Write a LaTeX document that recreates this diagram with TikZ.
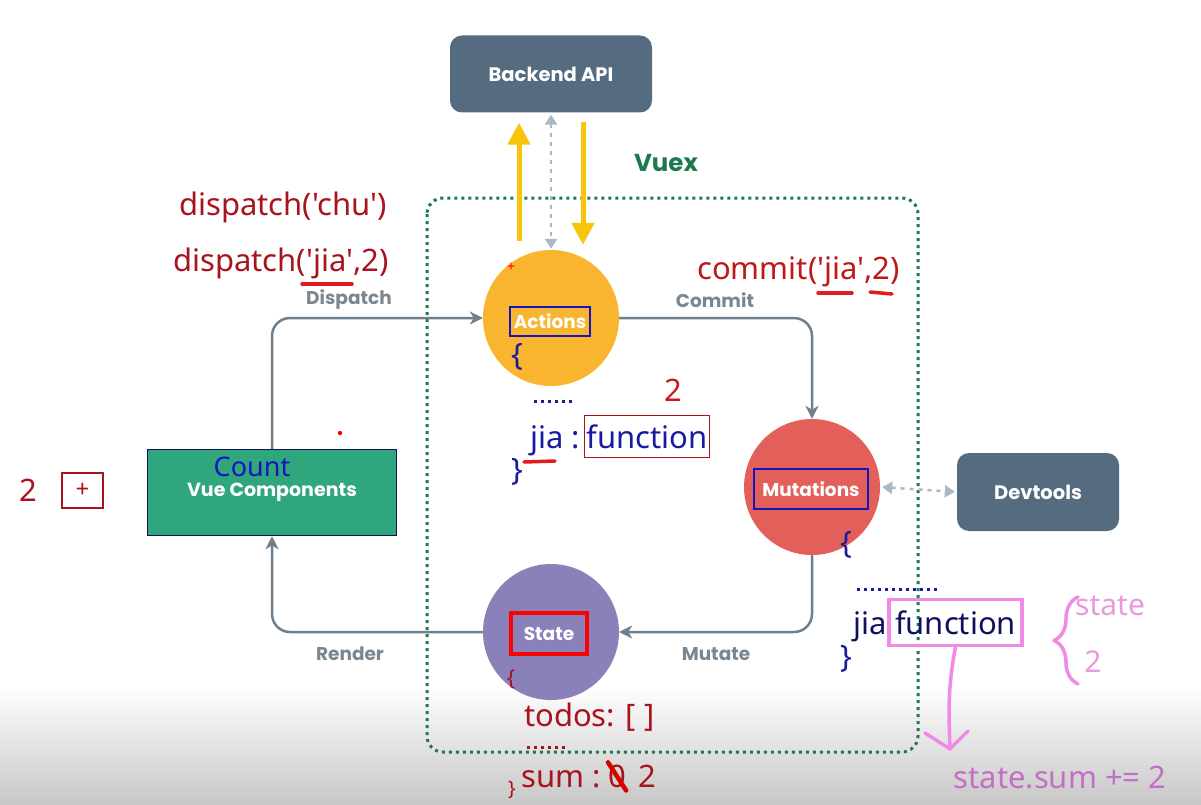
\documentclass[tikz,border=0pt]{standalone}
\usepackage{fontspec}
\setmainfont{Noto Sans}[Ligatures=TeXOff]
\newfontfamily\annfont{Noto Sans}[Ligatures=TeXOff]
\newfontfamily\lblfont{Poppins}
\usetikzlibrary{arrows.meta,decorations.pathreplacing,calc}
\definecolor{slate}{HTML}{546B80}
\definecolor{actcol}{HTML}{F9B52F}
\definecolor{mutcol}{HTML}{E3605A}
\definecolor{statecol}{HTML}{8A80BA}
\definecolor{vuecol}{HTML}{2FA67C}
\definecolor{conncol}{HTML}{6E7F8D}
\definecolor{dotcol}{HTML}{A9B8C4}
\definecolor{vuexgreen}{HTML}{1E7A4E}
\definecolor{labelgray}{HTML}{7A8791}
\definecolor{annred}{HTML}{A8141C}
\definecolor{ulred}{HTML}{E01C1C}
\definecolor{codeblue}{HTML}{1A1AA0}
\definecolor{navy}{HTML}{101060}
\definecolor{boxblue}{HTML}{1515C0}
\definecolor{gold}{HTML}{F9C50A}
\definecolor{pinkline}{HTML}{F08AE6}
\definecolor{pinktext}{HTML}{E89AE0}
\definecolor{sumpink}{HTML}{C46FC4}
\begin{document}
\begin{tikzpicture}[x=1pt,y=-1pt,
  slatebox/.style={draw=none,fill=slate,rounded corners=12pt,text=white,
    font=\lblfont\bfseries\fontsize{19.5}{22}\selectfont},
  bubble/.style={circle,minimum size=136pt,inner sep=0pt},
  inlbl/.style={text=white,font=\lblfont\bfseries\fontsize{18.5}{21}\selectfont,inner sep=2pt},
  graylbl/.style={text=labelgray,font=\lblfont\bfseries\fontsize{18.5}{21}\selectfont},
  conn/.style={draw=conncol,line width=2.5pt,rounded corners=18pt,
    -{Stealth[length=13pt,width=13pt,inset=4pt]}},
  dotarrow/.style={draw=dotcol,line width=2.5pt,dash pattern=on 4pt off 5pt,
    {Triangle[length=10pt,width=12pt]}-{Triangle[length=10pt,width=12pt]}},
  yarrow/.style={draw=gold,line width=5pt,-{Triangle[length=22pt,width=22pt]}},
  ann/.style={text=annred,font=\annfont\fontsize{31}{36}\selectfont,inner sep=0pt},
  code/.style={text=codeblue,font=\annfont\fontsize{31}{36}\selectfont,inner sep=0pt},
  ul/.style={draw=ulred,line width=3.5pt,line cap=round},
  dotsline/.style={line width=3pt,dash pattern=on 3pt off 4pt},
  pinkln/.style={draw=pinkline,line width=3.5pt,line cap=round,line join=round},
]
\useasboundingbox (0,0) rectangle (1201,805);
\fill[white] (0,0) rectangle (1201,805);
\shade[top color=white,bottom color=black!22] (0,685) rectangle (1201,805);

% Vuex boundary
\draw[vuexgreen,line width=3pt,dash pattern=on 3pt off 4pt,rounded corners=16pt]
  (427,198) rectangle (918,752);
\node[text=vuexgreen,font=\lblfont\bfseries\fontsize{24.5}{28}\selectfont] (vuex) at (666,163) {Vuex};

% main nodes
\node[slatebox,minimum width=202pt,minimum height=77pt] (api) at (551,74) {Backend API};
\node[slatebox,minimum width=162pt,minimum height=78pt] (dev) at (1038,492) {Devtools};
\node[bubble,fill=actcol] (act) at (551,318) {};
\node[bubble,fill=mutcol] (mut) at (812,487) {};
\node[bubble,fill=statecol] (st) at (551,632) {};
\node[fill=vuecol,draw=navy,line width=1.5pt,minimum width=249pt,minimum height=86pt] (vue) at (272,492.5) {};

\node[inlbl,draw=boxblue,line width=1.5pt,minimum width=80pt,minimum height=29pt] (actlbl) at (550,321.5) {Actions};
\node[inlbl,draw=boxblue,line width=1.5pt,minimum width=114pt,minimum height=40pt] (mutlbl) at (811,489) {Mutations};
\node[inlbl,draw=red,line width=4pt,minimum width=76pt,minimum height=41pt] (stlbl) at (549,633.5) {State};
\node[text=white,font=\lblfont\bfseries\fontsize{19}{22}\selectfont] (vuetxt) at (272,492) {Vue Components};
\node[text=boxblue,font=\annfont\fontsize{27}{30}\selectfont,inner sep=0pt] (count) at (252,467) {Count};

% connectors
\draw[conn] (vue.north) |- (act.west);
\draw[conn] (act.east) -| (mut.north);
\draw[conn] (mut.south) |- (st.east);
\draw[conn] (st.west) -| (vue.south);
\node[graylbl] (ldisp) at (349,300) {Dispatch};
\node[graylbl] (lcomm) at (715,300) {Commit};
\node[graylbl] (lmut) at (716,654) {Mutate};
\node[graylbl] (lrend) at (350,654) {Render};

\draw[dotarrow,shorten <=2pt,shorten >=1pt] (api.south) -- (act.north);
\draw[dotarrow,shorten <=2pt,shorten >=2pt] (mut.east) -- (dev.west);

% yellow arrows
\draw[yarrow] ($(act.north)+(-32,-9)$) -- ($(api.south)+(-32,10)$);
\draw[yarrow] ($(api.south)+(32,9)$) -- ($(act.north)+(32,-5)$);

% red annotations top left
\node[ann,anchor=west] (dchu) at (179,207) {dispatch('chu')};
\node[ann,anchor=west] (djia) at (173,263) {dispatch('jia',2)};
\draw[ul] (302,284) -- (352,284);
\node[text=red,font=\annfont\fontsize{14}{16}\selectfont,inner sep=0pt] (plus) at (511,267) {+};

% commit annotation
\node[ann,text=ulred!85!black,anchor=west] (comm) at (697,272) {commit('jia',2)};
\draw[ul] (818,293) -- (852,293);
\draw[ul] (870,292) -- (892,294);

% actions code
\node[code] (ab1) at (517,357) {\{};
\draw[codeblue,dotsline] (534,401) -- (573,401);
\node[code,draw=annred,line width=1.5pt,inner sep=2pt,minimum height=42pt,anchor=base] (afn) at (647,448) {function};
\node[code,anchor=base east] (ajia) at (580,448) {jia :};
\draw[ul] (524,462) -- (555,461);
\node[code] (ab2) at (517,472) {\}};
\node[ann,text=ulred!90!black] (two) at (673,390) {2};

% mutations code
\node[code] (mb1) at (846,545) {\{};
\draw[codeblue,dotsline] (857,589) -- (940,589);
\node[code,text=navy,draw=pinkline,line width=3.5pt,inner sep=2pt,minimum width=133pt,minimum height=46pt,anchor=base] (mfn) at (955.5,634) {function};
\node[code,text=navy,anchor=base east] (mjia) at (887,634) {jia};
\node[code] (mb2) at (846,659) {\}};

% pink annotations
\draw[pinkln,decorate,decoration={brace,amplitude=24pt,aspect=0.5}] (1078,684) -- (1078,597);
\node[text=pinktext,font=\annfont\fontsize{30}{34}\selectfont,inner sep=0pt,anchor=west] (pst) at (1075,606) {state};
\node[text=pinktext,font=\annfont\fontsize{30}{34}\selectfont,inner sep=0pt] (p2) at (1093,662) {2};
\coordinate (ptip) at (950,749);
\draw[pinkln] (mfn.south) .. controls (947,690) and (949,720) .. (ptip);
\draw[pinkln] (925,733) -- (ptip) -- (968,731);
\node[text=sumpink,font=\annfont\fontsize{31}{36}\selectfont,inner sep=0pt] (sum) at (1060,777) {state.sum += 2};

% state code
\node[ann,font=\annfont\fontsize{22}{26}\selectfont] (sb1) at (511,679) {\{};
\node[ann,anchor=west] (todos) at (524,717) {todos: [ ]};
\draw[annred,dotsline] (527,747) -- (567,747);
\node[ann,anchor=base west] (ssum) at (521,787) {sum :};
\node[ann,anchor=base west] (zero) at (608,787) {0};
\node[ann,anchor=base west] (stwo) at (638,787) {2};
\draw[draw=red!85!black,line width=4.5pt,line cap=round] ($(zero.north west)+(0,-2)$) -- ($(zero.south east)+(0,3)$);
\node[ann,font=\annfont\fontsize{20}{24}\selectfont] (sb2) at (512,790) {\}};

% left annotations
\fill[red] (340,433) circle (2.2pt);
\node[ann] (l2) at (28,490) {2};
\node[draw=annred,line width=1.5pt,minimum width=41pt,minimum height=35pt,inner sep=0pt,text=annred,font=\annfont\fontsize{24}{26}\selectfont] (pbtn) at (82.5,490.5) {+};
\end{tikzpicture}
\end{document}
